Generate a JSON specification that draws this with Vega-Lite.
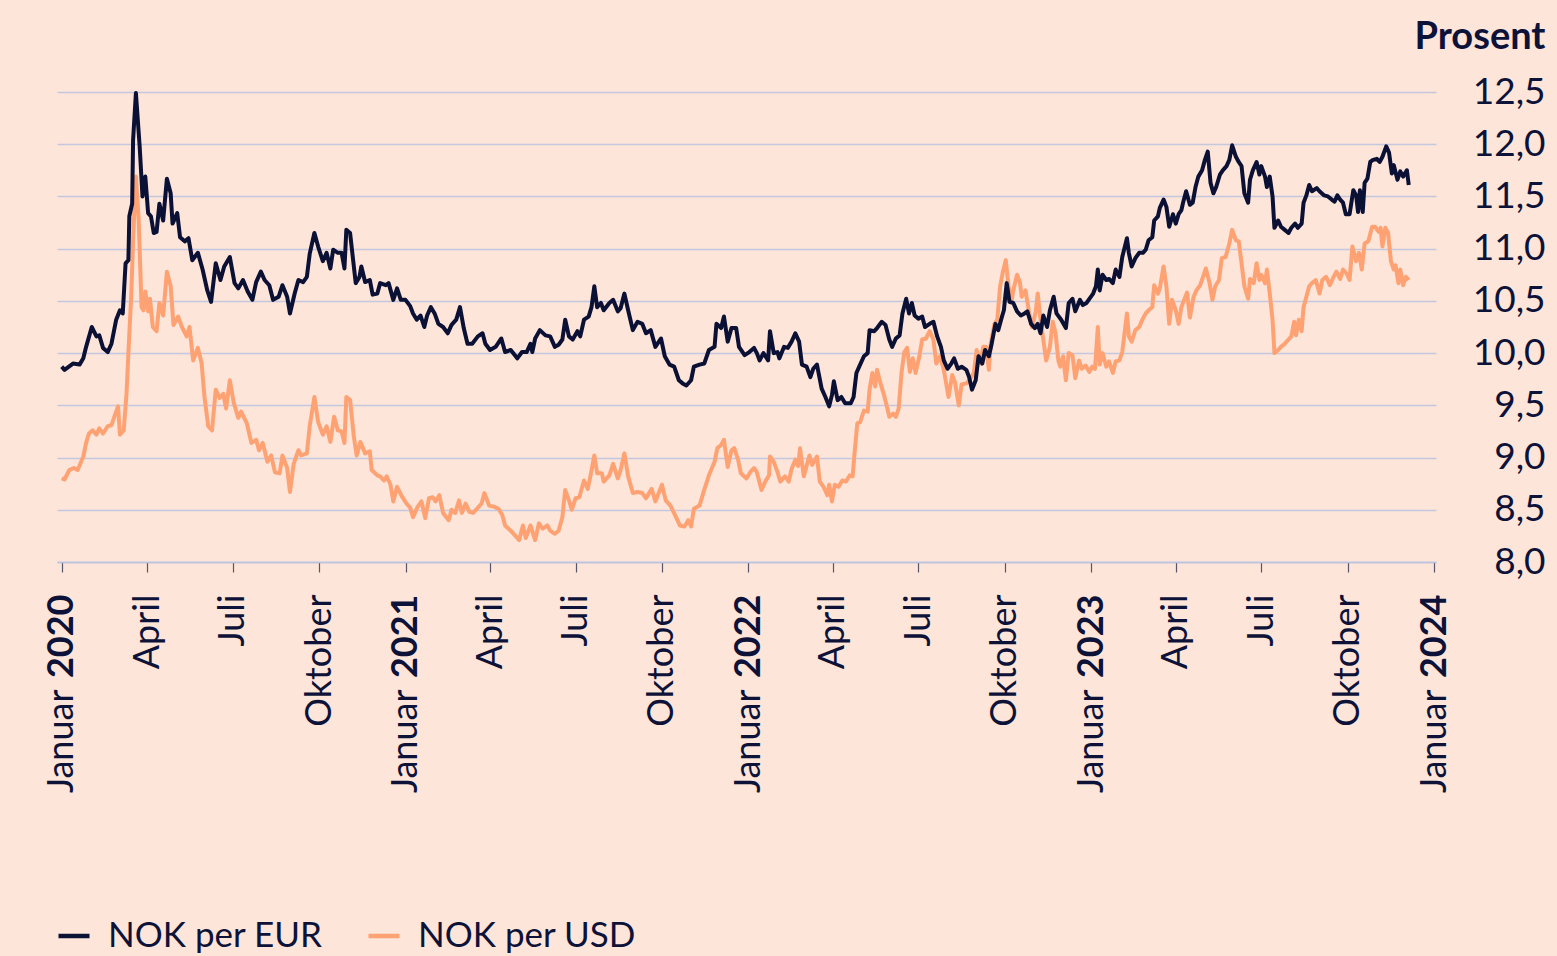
{
  "$schema": "https://vega.github.io/schema/vega-lite/v6.json",
  "width": 1379,
  "height": 470,
  "autosize": {"type": "none"},
  "padding": {"left": 57, "top": 92, "right": 121, "bottom": 394},
  "background": "#fde5d9",
  "config": {"view": {"stroke": null}, "font": "Lato"},
  "datasets": {
    "eur": [
      {"d":"2020-01-01","v":9.87},{"d":"2020-01-04","v":9.84},{"d":"2020-01-13","v":9.90},{"d":"2020-01-20","v":9.89},{"d":"2020-01-24","v":9.95},{"d":"2020-01-27","v":10.06},{"d":"2020-02-02","v":10.25},{"d":"2020-02-07","v":10.16},{"d":"2020-02-10","v":10.17},{"d":"2020-02-14","v":10.05},{"d":"2020-02-19","v":10.01},{"d":"2020-02-23","v":10.09},{"d":"2020-02-28","v":10.32},{"d":"2020-03-03","v":10.41},{"d":"2020-03-06","v":10.38},{"d":"2020-03-09","v":10.86},{"d":"2020-03-12","v":10.89},{"d":"2020-03-13","v":11.31},{"d":"2020-03-16","v":11.43},{"d":"2020-03-17","v":12.04},{"d":"2020-03-20","v":12.49},{"d":"2020-03-24","v":11.98},{"d":"2020-03-27","v":11.50},{"d":"2020-03-30","v":11.69},{"d":"2020-04-02","v":11.34},{"d":"2020-04-05","v":11.31},{"d":"2020-04-08","v":11.15},{"d":"2020-04-11","v":11.16},{"d":"2020-04-14","v":11.43},{"d":"2020-04-18","v":11.27},{"d":"2020-04-22","v":11.67},{"d":"2020-04-26","v":11.53},{"d":"2020-04-28","v":11.24},{"d":"2020-05-03","v":11.34},{"d":"2020-05-06","v":11.11},{"d":"2020-05-11","v":11.07},{"d":"2020-05-15","v":11.10},{"d":"2020-05-19","v":10.89},{"d":"2020-05-25","v":10.96},{"d":"2020-05-30","v":10.80},{"d":"2020-06-04","v":10.60},{"d":"2020-06-08","v":10.49},{"d":"2020-06-13","v":10.86},{"d":"2020-06-18","v":10.70},{"d":"2020-06-22","v":10.83},{"d":"2020-06-28","v":10.92},{"d":"2020-07-03","v":10.67},{"d":"2020-07-07","v":10.62},{"d":"2020-07-12","v":10.70},{"d":"2020-07-17","v":10.59},{"d":"2020-07-22","v":10.51},{"d":"2020-07-26","v":10.68},{"d":"2020-07-31","v":10.78},{"d":"2020-08-04","v":10.70},{"d":"2020-08-09","v":10.65},{"d":"2020-08-13","v":10.51},{"d":"2020-08-19","v":10.54},{"d":"2020-08-23","v":10.65},{"d":"2020-08-28","v":10.54},{"d":"2020-08-31","v":10.38},{"d":"2020-09-05","v":10.57},{"d":"2020-09-09","v":10.70},{"d":"2020-09-14","v":10.68},{"d":"2020-09-18","v":10.73},{"d":"2020-09-21","v":10.95},{"d":"2020-09-26","v":11.15},{"d":"2020-09-30","v":11.02},{"d":"2020-10-05","v":10.88},{"d":"2020-10-09","v":10.96},{"d":"2020-10-13","v":10.81},{"d":"2020-10-16","v":10.99},{"d":"2020-10-21","v":10.96},{"d":"2020-10-25","v":10.96},{"d":"2020-10-28","v":10.81},{"d":"2020-10-30","v":11.18},{"d":"2020-11-03","v":11.15},{"d":"2020-11-07","v":10.83},{"d":"2020-11-09","v":10.67},{"d":"2020-11-13","v":10.73},{"d":"2020-11-15","v":10.83},{"d":"2020-11-19","v":10.68},{"d":"2020-11-24","v":10.70},{"d":"2020-11-27","v":10.56},{"d":"2020-12-02","v":10.57},{"d":"2020-12-05","v":10.67},{"d":"2020-12-11","v":10.65},{"d":"2020-12-14","v":10.67},{"d":"2020-12-19","v":10.51},{"d":"2020-12-23","v":10.62},{"d":"2020-12-27","v":10.51},
      {"d":"2021-01-01","v":10.51},{"d":"2021-01-06","v":10.45},{"d":"2021-01-09","v":10.38},{"d":"2021-01-13","v":10.32},{"d":"2021-01-17","v":10.36},{"d":"2021-01-21","v":10.25},{"d":"2021-01-24","v":10.36},{"d":"2021-01-28","v":10.44},{"d":"2021-02-01","v":10.38},{"d":"2021-02-05","v":10.28},{"d":"2021-02-10","v":10.25},{"d":"2021-02-15","v":10.19},{"d":"2021-02-19","v":10.27},{"d":"2021-02-24","v":10.32},{"d":"2021-02-28","v":10.44},{"d":"2021-03-04","v":10.24},{"d":"2021-03-08","v":10.09},{"d":"2021-03-13","v":10.09},{"d":"2021-03-19","v":10.16},{"d":"2021-03-24","v":10.19},{"d":"2021-03-27","v":10.09},{"d":"2021-04-01","v":10.03},{"d":"2021-04-07","v":10.06},{"d":"2021-04-13","v":10.14},{"d":"2021-04-17","v":10.01},{"d":"2021-04-23","v":10.03},{"d":"2021-04-30","v":9.95},{"d":"2021-05-05","v":10.01},{"d":"2021-05-10","v":10.01},{"d":"2021-05-14","v":10.09},{"d":"2021-05-16","v":10.01},{"d":"2021-05-19","v":10.14},{"d":"2021-05-24","v":10.22},{"d":"2021-05-30","v":10.17},{"d":"2021-06-04","v":10.16},{"d":"2021-06-09","v":10.06},{"d":"2021-06-13","v":10.08},{"d":"2021-06-17","v":10.13},{"d":"2021-06-20","v":10.32},{"d":"2021-06-24","v":10.16},{"d":"2021-06-28","v":10.13},{"d":"2021-07-03","v":10.21},{"d":"2021-07-06","v":10.16},{"d":"2021-07-10","v":10.32},{"d":"2021-07-15","v":10.35},{"d":"2021-07-18","v":10.44},{"d":"2021-07-21","v":10.64},{"d":"2021-07-24","v":10.44},{"d":"2021-07-28","v":10.48},{"d":"2021-07-31","v":10.41},{"d":"2021-08-06","v":10.48},{"d":"2021-08-10","v":10.51},{"d":"2021-08-15","v":10.40},{"d":"2021-08-18","v":10.43},{"d":"2021-08-22","v":10.57},{"d":"2021-08-26","v":10.41},{"d":"2021-08-31","v":10.22},{"d":"2021-09-05","v":10.30},{"d":"2021-09-10","v":10.28},{"d":"2021-09-14","v":10.19},{"d":"2021-09-19","v":10.22},{"d":"2021-09-24","v":10.06},{"d":"2021-09-30","v":10.14},{"d":"2021-10-04","v":9.97},{"d":"2021-10-09","v":9.89},{"d":"2021-10-14","v":9.87},{"d":"2021-10-19","v":9.74},{"d":"2021-10-23","v":9.71},{"d":"2021-10-27","v":9.69},{"d":"2021-11-01","v":9.74},{"d":"2021-11-04","v":9.87},{"d":"2021-11-10","v":9.89},{"d":"2021-11-15","v":9.90},{"d":"2021-11-20","v":10.03},{"d":"2021-11-26","v":10.06},{"d":"2021-11-28","v":10.28},{"d":"2021-12-03","v":10.24},{"d":"2021-12-06","v":10.35},{"d":"2021-12-10","v":10.11},{"d":"2021-12-14","v":10.24},{"d":"2021-12-19","v":10.24},{"d":"2021-12-22","v":10.06},{"d":"2021-12-28","v":9.98},
      {"d":"2022-01-02","v":10.01},{"d":"2022-01-07","v":10.05},{"d":"2022-01-10","v":10.00},{"d":"2022-01-13","v":9.93},{"d":"2022-01-17","v":10.00},{"d":"2022-01-22","v":9.93},{"d":"2022-01-24","v":10.21},{"d":"2022-01-28","v":10.00},{"d":"2022-02-01","v":10.01},{"d":"2022-02-03","v":9.95},{"d":"2022-02-08","v":10.06},{"d":"2022-02-12","v":10.05},{"d":"2022-02-16","v":10.11},{"d":"2022-02-20","v":10.19},{"d":"2022-02-24","v":10.11},{"d":"2022-02-27","v":9.89},{"d":"2022-03-04","v":9.87},{"d":"2022-03-08","v":9.77},{"d":"2022-03-11","v":9.85},{"d":"2022-03-15","v":9.89},{"d":"2022-03-20","v":9.66},{"d":"2022-03-24","v":9.58},{"d":"2022-03-28","v":9.49},{"d":"2022-03-31","v":9.60},{"d":"2022-04-02","v":9.73},{"d":"2022-04-06","v":9.55},{"d":"2022-04-10","v":9.58},{"d":"2022-04-14","v":9.52},{"d":"2022-04-20","v":9.52},{"d":"2022-04-23","v":9.58},{"d":"2022-04-26","v":9.81},{"d":"2022-04-29","v":9.87},{"d":"2022-05-04","v":9.97},{"d":"2022-05-08","v":10.00},{"d":"2022-05-10","v":10.22},{"d":"2022-05-15","v":10.21},{"d":"2022-05-18","v":10.24},{"d":"2022-05-23","v":10.30},{"d":"2022-05-27","v":10.27},{"d":"2022-05-31","v":10.13},{"d":"2022-06-03","v":10.06},{"d":"2022-06-07","v":10.14},{"d":"2022-06-11","v":10.17},{"d":"2022-06-14","v":10.38},{"d":"2022-06-18","v":10.52},{"d":"2022-06-21","v":10.38},{"d":"2022-06-24","v":10.48},{"d":"2022-06-27","v":10.36},{"d":"2022-07-01","v":10.33},{"d":"2022-07-05","v":10.35},{"d":"2022-07-08","v":10.25},{"d":"2022-07-13","v":10.28},{"d":"2022-07-17","v":10.30},{"d":"2022-07-21","v":10.16},{"d":"2022-07-25","v":10.06},{"d":"2022-07-28","v":9.93},{"d":"2022-08-01","v":9.85},{"d":"2022-08-05","v":9.90},{"d":"2022-08-08","v":9.95},{"d":"2022-08-12","v":9.85},{"d":"2022-08-16","v":9.87},{"d":"2022-08-21","v":9.84},{"d":"2022-08-24","v":9.77},{"d":"2022-08-27","v":9.65},{"d":"2022-08-31","v":9.74},{"d":"2022-09-03","v":9.97},{"d":"2022-09-07","v":9.90},{"d":"2022-09-10","v":10.03},{"d":"2022-09-14","v":9.97},{"d":"2022-09-17","v":10.09},{"d":"2022-09-21","v":10.28},{"d":"2022-09-24","v":10.22},{"d":"2022-09-28","v":10.35},{"d":"2022-09-30","v":10.41},{"d":"2022-10-03","v":10.67},{"d":"2022-10-06","v":10.49},{"d":"2022-10-10","v":10.48},{"d":"2022-10-14","v":10.40},{"d":"2022-10-18","v":10.36},{"d":"2022-10-22","v":10.38},{"d":"2022-10-25","v":10.40},{"d":"2022-10-29","v":10.28},{"d":"2022-11-02","v":10.24},{"d":"2022-11-05","v":10.28},{"d":"2022-11-08","v":10.19},{"d":"2022-11-11","v":10.36},{"d":"2022-11-15","v":10.25},{"d":"2022-11-18","v":10.41},{"d":"2022-11-22","v":10.54},{"d":"2022-11-25","v":10.38},{"d":"2022-11-30","v":10.32},{"d":"2022-12-05","v":10.24},{"d":"2022-12-08","v":10.48},{"d":"2022-12-12","v":10.52},{"d":"2022-12-15","v":10.40},{"d":"2022-12-20","v":10.51},{"d":"2022-12-23","v":10.46},{"d":"2022-12-27","v":10.48},{"d":"2022-12-30","v":10.52},
      {"d":"2023-01-03","v":10.57},{"d":"2023-01-06","v":10.64},{"d":"2023-01-08","v":10.80},{"d":"2023-01-10","v":10.60},{"d":"2023-01-13","v":10.75},{"d":"2023-01-17","v":10.70},{"d":"2023-01-20","v":10.71},{"d":"2023-01-24","v":10.67},{"d":"2023-01-27","v":10.80},{"d":"2023-01-31","v":10.73},{"d":"2023-02-03","v":10.92},{"d":"2023-02-08","v":11.10},{"d":"2023-02-10","v":10.96},{"d":"2023-02-13","v":10.83},{"d":"2023-02-17","v":10.91},{"d":"2023-02-21","v":10.96},{"d":"2023-02-25","v":10.96},{"d":"2023-02-28","v":10.99},{"d":"2023-03-03","v":11.08},{"d":"2023-03-07","v":11.11},{"d":"2023-03-09","v":11.27},{"d":"2023-03-13","v":11.31},{"d":"2023-03-15","v":11.39},{"d":"2023-03-19","v":11.47},{"d":"2023-03-22","v":11.40},{"d":"2023-03-25","v":11.21},{"d":"2023-03-29","v":11.33},{"d":"2023-04-01","v":11.24},{"d":"2023-04-04","v":11.33},{"d":"2023-04-07","v":11.37},{"d":"2023-04-09","v":11.45},{"d":"2023-04-12","v":11.55},{"d":"2023-04-16","v":11.42},{"d":"2023-04-19","v":11.44},{"d":"2023-04-22","v":11.59},{"d":"2023-04-25","v":11.69},{"d":"2023-04-29","v":11.75},{"d":"2023-05-02","v":11.85},{"d":"2023-05-05","v":11.93},{"d":"2023-05-08","v":11.63},{"d":"2023-05-11","v":11.53},{"d":"2023-05-14","v":11.59},{"d":"2023-05-18","v":11.71},{"d":"2023-05-21","v":11.75},{"d":"2023-05-25","v":11.79},{"d":"2023-05-28","v":11.85},{"d":"2023-05-31","v":11.99},{"d":"2023-06-04","v":11.88},{"d":"2023-06-07","v":11.83},{"d":"2023-06-10","v":11.79},{"d":"2023-06-13","v":11.53},{"d":"2023-06-17","v":11.44},{"d":"2023-06-19","v":11.66},{"d":"2023-06-22","v":11.75},{"d":"2023-06-26","v":11.83},{"d":"2023-06-29","v":11.71},{"d":"2023-07-01","v":11.79},{"d":"2023-07-05","v":11.69},{"d":"2023-07-07","v":11.59},{"d":"2023-07-10","v":11.69},{"d":"2023-07-13","v":11.50},{"d":"2023-07-15","v":11.20},{"d":"2023-07-19","v":11.27},{"d":"2023-07-22","v":11.21},{"d":"2023-07-26","v":11.18},{"d":"2023-07-30","v":11.15},{"d":"2023-08-02","v":11.20},{"d":"2023-08-06","v":11.24},{"d":"2023-08-09","v":11.20},{"d":"2023-08-13","v":11.24},{"d":"2023-08-15","v":11.44},{"d":"2023-08-18","v":11.51},{"d":"2023-08-21","v":11.61},{"d":"2023-08-24","v":11.55},{"d":"2023-08-29","v":11.58},{"d":"2023-09-01","v":11.55},{"d":"2023-09-06","v":11.51},{"d":"2023-09-10","v":11.50},{"d":"2023-09-14","v":11.47},{"d":"2023-09-17","v":11.45},{"d":"2023-09-20","v":11.51},{"d":"2023-09-23","v":11.47},{"d":"2023-09-26","v":11.44},{"d":"2023-09-29","v":11.33},{"d":"2023-10-03","v":11.33},{"d":"2023-10-07","v":11.56},{"d":"2023-10-10","v":11.51},{"d":"2023-10-12","v":11.35},{"d":"2023-10-14","v":11.56},{"d":"2023-10-17","v":11.35},{"d":"2023-10-19","v":11.63},{"d":"2023-10-22","v":11.67},{"d":"2023-10-25","v":11.83},{"d":"2023-10-28","v":11.85},{"d":"2023-11-01","v":11.86},{"d":"2023-11-04","v":11.83},{"d":"2023-11-07","v":11.88},{"d":"2023-11-11","v":11.98},{"d":"2023-11-14","v":11.92},{"d":"2023-11-17","v":11.72},{"d":"2023-11-19","v":11.80},{"d":"2023-11-23","v":11.66},{"d":"2023-11-26","v":11.74},{"d":"2023-11-29","v":11.69},{"d":"2023-12-03","v":11.75},{"d":"2023-12-05","v":11.61}
    ],
    "usd": [
      {"d":"2020-01-01","v":8.80},{"d":"2020-01-04","v":8.79},{"d":"2020-01-09","v":8.88},{"d":"2020-01-14","v":8.90},{"d":"2020-01-18","v":8.88},{"d":"2020-01-24","v":9.01},{"d":"2020-01-27","v":9.14},{"d":"2020-01-30","v":9.23},{"d":"2020-02-03","v":9.26},{"d":"2020-02-07","v":9.22},{"d":"2020-02-10","v":9.28},{"d":"2020-02-14","v":9.23},{"d":"2020-02-19","v":9.30},{"d":"2020-02-23","v":9.31},{"d":"2020-02-26","v":9.39},{"d":"2020-03-01","v":9.49},{"d":"2020-03-03","v":9.22},{"d":"2020-03-07","v":9.26},{"d":"2020-03-10","v":9.61},{"d":"2020-03-13","v":10.19},{"d":"2020-03-15","v":10.54},{"d":"2020-03-17","v":11.08},{"d":"2020-03-20","v":11.69},{"d":"2020-03-23","v":11.27},{"d":"2020-03-26","v":10.44},{"d":"2020-03-28","v":10.41},{"d":"2020-03-30","v":10.59},{"d":"2020-04-02","v":10.40},{"d":"2020-04-04","v":10.52},{"d":"2020-04-07","v":10.25},{"d":"2020-04-11","v":10.21},{"d":"2020-04-14","v":10.48},{"d":"2020-04-18","v":10.36},{"d":"2020-04-22","v":10.78},{"d":"2020-04-26","v":10.64},{"d":"2020-04-29","v":10.27},{"d":"2020-05-04","v":10.35},{"d":"2020-05-08","v":10.25},{"d":"2020-05-13","v":10.16},{"d":"2020-05-16","v":10.25},{"d":"2020-05-20","v":9.93},{"d":"2020-05-25","v":10.05},{"d":"2020-05-29","v":9.90},{"d":"2020-06-01","v":9.58},{"d":"2020-06-05","v":9.30},{"d":"2020-06-09","v":9.26},{"d":"2020-06-13","v":9.65},{"d":"2020-06-17","v":9.57},{"d":"2020-06-21","v":9.61},{"d":"2020-06-24","v":9.47},{"d":"2020-06-28","v":9.74},{"d":"2020-07-02","v":9.53},{"d":"2020-07-07","v":9.38},{"d":"2020-07-10","v":9.44},{"d":"2020-07-16","v":9.33},{"d":"2020-07-21","v":9.14},{"d":"2020-07-26","v":9.17},{"d":"2020-07-29","v":9.07},{"d":"2020-08-02","v":9.14},{"d":"2020-08-07","v":8.96},{"d":"2020-08-11","v":9.02},{"d":"2020-08-15","v":8.86},{"d":"2020-08-20","v":8.85},{"d":"2020-08-23","v":9.02},{"d":"2020-08-28","v":8.90},{"d":"2020-08-31","v":8.67},{"d":"2020-09-04","v":8.94},{"d":"2020-09-09","v":9.07},{"d":"2020-09-12","v":9.02},{"d":"2020-09-18","v":9.04},{"d":"2020-09-21","v":9.30},{"d":"2020-09-26","v":9.58},{"d":"2020-09-30","v":9.34},{"d":"2020-10-05","v":9.22},{"d":"2020-10-09","v":9.30},{"d":"2020-10-13","v":9.15},{"d":"2020-10-17","v":9.39},{"d":"2020-10-21","v":9.26},{"d":"2020-10-25","v":9.25},{"d":"2020-10-28","v":9.14},{"d":"2020-10-30","v":9.58},{"d":"2020-11-03","v":9.55},{"d":"2020-11-07","v":9.20},{"d":"2020-11-10","v":9.02},{"d":"2020-11-14","v":9.15},{"d":"2020-11-19","v":9.04},{"d":"2020-11-24","v":9.06},{"d":"2020-11-26","v":8.88},{"d":"2020-12-02","v":8.83},{"d":"2020-12-05","v":8.82},{"d":"2020-12-09","v":8.78},{"d":"2020-12-12","v":8.82},{"d":"2020-12-16","v":8.74},{"d":"2020-12-19","v":8.58},{"d":"2020-12-23","v":8.72},{"d":"2020-12-28","v":8.63},
      {"d":"2021-01-02","v":8.56},{"d":"2021-01-06","v":8.52},{"d":"2021-01-09","v":8.43},{"d":"2021-01-14","v":8.53},{"d":"2021-01-18","v":8.58},{"d":"2021-01-22","v":8.42},{"d":"2021-01-26","v":8.61},{"d":"2021-01-30","v":8.62},{"d":"2021-02-02","v":8.58},{"d":"2021-02-06","v":8.64},{"d":"2021-02-10","v":8.47},{"d":"2021-02-16","v":8.40},{"d":"2021-02-19","v":8.50},{"d":"2021-02-23","v":8.47},{"d":"2021-02-27","v":8.59},{"d":"2021-03-02","v":8.47},{"d":"2021-03-06","v":8.56},{"d":"2021-03-10","v":8.48},{"d":"2021-03-14","v":8.47},{"d":"2021-03-18","v":8.51},{"d":"2021-03-23","v":8.56},{"d":"2021-03-26","v":8.66},{"d":"2021-03-31","v":8.54},{"d":"2021-04-05","v":8.53},{"d":"2021-04-10","v":8.51},{"d":"2021-04-14","v":8.45},{"d":"2021-04-17","v":8.35},{"d":"2021-04-23","v":8.30},{"d":"2021-04-28","v":8.25},{"d":"2021-05-02","v":8.21},{"d":"2021-05-06","v":8.35},{"d":"2021-05-09","v":8.23},{"d":"2021-05-14","v":8.35},{"d":"2021-05-19","v":8.21},{"d":"2021-05-23","v":8.37},{"d":"2021-05-27","v":8.32},{"d":"2021-06-01","v":8.35},{"d":"2021-06-04","v":8.30},{"d":"2021-06-09","v":8.27},{"d":"2021-06-13","v":8.30},{"d":"2021-06-17","v":8.43},{"d":"2021-06-20","v":8.69},{"d":"2021-06-24","v":8.59},{"d":"2021-06-27","v":8.50},{"d":"2021-07-01","v":8.61},{"d":"2021-07-05","v":8.62},{"d":"2021-07-10","v":8.78},{"d":"2021-07-14","v":8.70},{"d":"2021-07-17","v":8.83},{"d":"2021-07-21","v":9.02},{"d":"2021-07-24","v":8.85},{"d":"2021-07-29","v":8.85},{"d":"2021-07-31","v":8.77},{"d":"2021-08-06","v":8.83},{"d":"2021-08-10","v":8.94},{"d":"2021-08-15","v":8.80},{"d":"2021-08-18","v":8.88},{"d":"2021-08-22","v":9.04},{"d":"2021-08-26","v":8.82},{"d":"2021-08-31","v":8.66},{"d":"2021-09-05","v":8.67},{"d":"2021-09-10","v":8.66},{"d":"2021-09-14","v":8.61},{"d":"2021-09-20","v":8.70},{"d":"2021-09-24","v":8.58},{"d":"2021-10-01","v":8.74},{"d":"2021-10-05","v":8.59},{"d":"2021-10-10","v":8.54},{"d":"2021-10-16","v":8.43},{"d":"2021-10-20","v":8.35},{"d":"2021-10-25","v":8.34},{"d":"2021-10-29","v":8.40},{"d":"2021-11-01","v":8.34},{"d":"2021-11-04","v":8.51},{"d":"2021-11-10","v":8.54},{"d":"2021-11-15","v":8.69},{"d":"2021-11-20","v":8.83},{"d":"2021-11-26","v":8.96},{"d":"2021-11-29","v":9.09},{"d":"2021-12-03","v":9.12},{"d":"2021-12-06","v":9.17},{"d":"2021-12-10","v":8.91},{"d":"2021-12-14","v":9.07},{"d":"2021-12-17","v":9.09},{"d":"2021-12-21","v":8.98},{"d":"2021-12-24","v":8.85},{"d":"2021-12-30","v":8.80},
      {"d":"2022-01-03","v":8.86},{"d":"2022-01-07","v":8.90},{"d":"2022-01-10","v":8.86},{"d":"2022-01-15","v":8.69},{"d":"2022-01-19","v":8.77},{"d":"2022-01-23","v":8.83},{"d":"2022-01-24","v":9.01},{"d":"2022-01-28","v":8.96},{"d":"2022-02-01","v":8.86},{"d":"2022-02-04","v":8.77},{"d":"2022-02-09","v":8.82},{"d":"2022-02-13","v":8.77},{"d":"2022-02-16","v":8.89},{"d":"2022-02-20","v":8.98},{"d":"2022-02-23","v":8.92},{"d":"2022-02-25","v":9.09},{"d":"2022-03-01","v":8.82},{"d":"2022-03-04","v":8.92},{"d":"2022-03-07","v":9.02},{"d":"2022-03-10","v":8.93},{"d":"2022-03-15","v":9.01},{"d":"2022-03-18","v":8.77},{"d":"2022-03-22","v":8.72},{"d":"2022-03-26","v":8.64},{"d":"2022-03-28","v":8.74},{"d":"2022-03-31","v":8.58},{"d":"2022-04-03","v":8.74},{"d":"2022-04-07","v":8.72},{"d":"2022-04-11","v":8.78},{"d":"2022-04-15","v":8.77},{"d":"2022-04-19","v":8.83},{"d":"2022-04-22","v":8.82},{"d":"2022-04-24","v":9.04},{"d":"2022-04-27","v":9.33},{"d":"2022-04-30","v":9.34},{"d":"2022-05-04","v":9.45},{"d":"2022-05-08","v":9.44},{"d":"2022-05-10","v":9.65},{"d":"2022-05-13","v":9.81},{"d":"2022-05-16","v":9.68},{"d":"2022-05-18","v":9.84},{"d":"2022-05-22","v":9.70},{"d":"2022-05-25","v":9.61},{"d":"2022-05-29","v":9.47},{"d":"2022-05-31","v":9.39},{"d":"2022-06-04","v":9.42},{"d":"2022-06-07","v":9.39},{"d":"2022-06-10","v":9.47},{"d":"2022-06-13","v":9.81},{"d":"2022-06-16","v":10.01},{"d":"2022-06-19","v":10.05},{"d":"2022-06-22","v":9.82},{"d":"2022-06-25","v":9.95},{"d":"2022-06-28","v":9.81},{"d":"2022-07-02","v":9.97},{"d":"2022-07-05","v":10.13},{"d":"2022-07-09","v":10.14},{"d":"2022-07-13","v":10.21},{"d":"2022-07-17","v":10.13},{"d":"2022-07-20","v":9.90},{"d":"2022-07-24","v":9.97},{"d":"2022-07-28","v":9.84},{"d":"2022-07-30","v":9.74},{"d":"2022-08-02","v":9.58},{"d":"2022-08-06","v":9.79},{"d":"2022-08-09","v":9.72},{"d":"2022-08-13","v":9.50},{"d":"2022-08-16","v":9.70},{"d":"2022-08-21","v":9.71},{"d":"2022-08-24","v":9.74},{"d":"2022-08-29","v":9.81},{"d":"2022-09-01","v":10.03},{"d":"2022-09-05","v":9.90},{"d":"2022-09-08","v":10.06},{"d":"2022-09-11","v":10.06},{"d":"2022-09-14","v":9.84},{"d":"2022-09-16","v":10.09},{"d":"2022-09-20","v":10.28},{"d":"2022-09-23","v":10.32},{"d":"2022-09-26","v":10.64},{"d":"2022-09-29","v":10.78},{"d":"2022-10-02","v":10.89},{"d":"2022-10-05","v":10.64},{"d":"2022-10-08","v":10.49},{"d":"2022-10-10","v":10.60},{"d":"2022-10-14","v":10.75},{"d":"2022-10-17","v":10.68},{"d":"2022-10-19","v":10.54},{"d":"2022-10-23","v":10.60},{"d":"2022-10-27","v":10.38},{"d":"2022-10-30","v":10.25},{"d":"2022-11-03","v":10.40},{"d":"2022-11-05","v":10.57},{"d":"2022-11-08","v":10.32},{"d":"2022-11-10","v":10.19},{"d":"2022-11-14","v":9.93},{"d":"2022-11-18","v":10.06},{"d":"2022-11-21","v":10.30},{"d":"2022-11-24","v":10.19},{"d":"2022-11-27","v":9.93},{"d":"2022-11-29","v":9.87},{"d":"2022-12-02","v":9.97},{"d":"2022-12-05","v":9.74},{"d":"2022-12-08","v":10.00},{"d":"2022-12-12","v":9.98},{"d":"2022-12-15","v":9.76},{"d":"2022-12-19","v":9.93},{"d":"2022-12-22","v":9.85},{"d":"2022-12-26","v":9.88},{"d":"2022-12-30","v":9.82},
      {"d":"2023-01-02","v":9.87},{"d":"2023-01-05","v":9.85},{"d":"2023-01-08","v":10.25},{"d":"2023-01-10","v":9.89},{"d":"2023-01-13","v":10.00},{"d":"2023-01-17","v":9.87},{"d":"2023-01-20","v":9.92},{"d":"2023-01-24","v":9.81},{"d":"2023-01-27","v":9.92},{"d":"2023-01-31","v":9.93},{"d":"2023-02-03","v":10.01},{"d":"2023-02-08","v":10.38},{"d":"2023-02-10","v":10.16},{"d":"2023-02-13","v":10.11},{"d":"2023-02-17","v":10.22},{"d":"2023-02-21","v":10.25},{"d":"2023-02-25","v":10.33},{"d":"2023-02-28","v":10.38},{"d":"2023-03-03","v":10.41},{"d":"2023-03-07","v":10.44},{"d":"2023-03-09","v":10.65},{"d":"2023-03-13","v":10.57},{"d":"2023-03-15","v":10.62},{"d":"2023-03-19","v":10.83},{"d":"2023-03-22","v":10.64},{"d":"2023-03-25","v":10.28},{"d":"2023-03-28","v":10.51},{"d":"2023-04-01","v":10.41},{"d":"2023-04-04","v":10.28},{"d":"2023-04-07","v":10.44},{"d":"2023-04-09","v":10.49},{"d":"2023-04-13","v":10.58},{"d":"2023-04-16","v":10.34},{"d":"2023-04-20","v":10.54},{"d":"2023-04-23","v":10.60},{"d":"2023-04-27","v":10.65},{"d":"2023-04-30","v":10.73},{"d":"2023-05-03","v":10.81},{"d":"2023-05-07","v":10.67},{"d":"2023-05-10","v":10.51},{"d":"2023-05-13","v":10.64},{"d":"2023-05-17","v":10.70},{"d":"2023-05-20","v":10.91},{"d":"2023-05-24","v":10.92},{"d":"2023-05-28","v":11.05},{"d":"2023-05-31","v":11.18},{"d":"2023-06-04","v":11.08},{"d":"2023-06-07","v":11.07},{"d":"2023-06-10","v":10.86},{"d":"2023-06-13","v":10.64},{"d":"2023-06-17","v":10.52},{"d":"2023-06-19","v":10.71},{"d":"2023-06-23","v":10.67},{"d":"2023-06-26","v":10.86},{"d":"2023-06-29","v":10.70},{"d":"2023-07-01","v":10.75},{"d":"2023-07-05","v":10.67},{"d":"2023-07-07","v":10.80},{"d":"2023-07-10","v":10.57},{"d":"2023-07-13","v":10.32},{"d":"2023-07-15","v":10.00},{"d":"2023-07-19","v":10.03},{"d":"2023-07-22","v":10.06},{"d":"2023-07-26","v":10.09},{"d":"2023-07-30","v":10.13},{"d":"2023-08-02","v":10.16},{"d":"2023-08-05","v":10.30},{"d":"2023-08-07","v":10.17},{"d":"2023-08-10","v":10.32},{"d":"2023-08-13","v":10.21},{"d":"2023-08-15","v":10.44},{"d":"2023-08-18","v":10.54},{"d":"2023-08-21","v":10.64},{"d":"2023-08-24","v":10.67},{"d":"2023-08-28","v":10.70},{"d":"2023-09-01","v":10.57},{"d":"2023-09-04","v":10.70},{"d":"2023-09-08","v":10.73},{"d":"2023-09-12","v":10.65},{"d":"2023-09-16","v":10.73},{"d":"2023-09-19","v":10.78},{"d":"2023-09-23","v":10.71},{"d":"2023-09-26","v":10.80},{"d":"2023-09-30","v":10.76},{"d":"2023-10-03","v":10.70},{"d":"2023-10-06","v":11.02},{"d":"2023-10-10","v":10.88},{"d":"2023-10-13","v":10.96},{"d":"2023-10-16","v":10.80},{"d":"2023-10-19","v":11.05},{"d":"2023-10-23","v":11.07},{"d":"2023-10-27","v":11.21},{"d":"2023-10-30","v":11.21},{"d":"2023-11-03","v":11.16},{"d":"2023-11-05","v":11.20},{"d":"2023-11-07","v":11.02},{"d":"2023-11-10","v":11.20},{"d":"2023-11-13","v":11.15},{"d":"2023-11-16","v":10.88},{"d":"2023-11-19","v":10.80},{"d":"2023-11-21","v":10.84},{"d":"2023-11-24","v":10.67},{"d":"2023-11-26","v":10.80},{"d":"2023-11-29","v":10.65},{"d":"2023-12-02","v":10.73},{"d":"2023-12-05","v":10.70}
    ]
  },
  "encoding": {
    "y": {
      "field": "v",
      "type": "quantitative",
      "scale": {"domain": [8, 12.5], "nice": false, "zero": false},
      "axis": {
        "orient": "right",
        "values": [8, 8.5, 9, 9.5, 10, 10.5, 11, 11.5, 12, 12.5],
        "labelExpr": "replace(format(datum.value, '.1f'), '.', ',')",
        "labelAlign": "right",
        "labelBaseline": "middle",
        "labelPadding": 109,
        "labelFontSize": 37,
        "labelFont": "Lato",
        "labelColor": "#0d1238",
        "ticks": false,
        "tickSize": 0,
        "domain": false,
        "grid": true,
        "gridColor": "#c3c8dd",
        "gridWidth": 1.5,
        "title": "Prosent",
        "titleAngle": 0,
        "titleAlign": "right",
        "titleBaseline": "alphabetic",
        "titleX": 109,
        "titleY": -44,
        "titleFont": "Lato",
        "titleFontSize": 38,
        "titleFontWeight": "bold",
        "titleColor": "#0d1238"
      }
    }
  },
  "layer": [
    {
      "data": {"name": "usd"},
      "mark": {"type": "line", "strokeWidth": 4, "strokeJoin": "round"},
      "encoding": {
        "x": {
          "field": "d",
          "type": "temporal",
          "scale": {"domain": [{"year": 2019, "month": 12, "date": 27}, {"year": 2024, "month": 1, "date": 3}]},
          "axis": {
            "orient": "bottom",
            "values": [{"year": 2020, "month": 1, "date": 1}, {"year": 2021, "month": 1, "date": 1}, {"year": 2022, "month": 1, "date": 1}, {"year": 2023, "month": 1, "date": 1}, {"year": 2024, "month": 1, "date": 1}],
            "labelExpr": "'Januar'",
            "labelAngle": -90,
            "labelAlign": "right",
            "labelBaseline": "middle",
            "labelPadding": 127,
            "labelFontSize": 36,
            "labelFont": "Lato",
            "labelFontWeight": "normal",
            "labelColor": "#0d1238",
            "labelOverlap": false,
            "labelBound": false,
            "labelFlush": false,
            "ticks": false,
            "tickSize": 0,
            "domain": false,
            "grid": false,
            "title": null
          }
        },
        "color": {
          "datum": "NOK per USD",
          "type": "nominal",
          "scale": {"domain": ["NOK per EUR", "NOK per USD"], "range": ["#0b1035", "#ffa273"]},
          "legend": {
            "orient": "none",
            "legendX": -1,
            "legendY": 826,
            "direction": "horizontal",
            "title": null,
            "symbolType": "stroke",
            "symbolSize": 961,
            "symbolStrokeWidth": 4.5,
            "labelFontSize": 35,
            "labelFont": "Lato",
            "labelColor": "#0d1238",
            "labelLimit": 0,
            "labelOffset": 16,
            "columnPadding": 36
          }
        }
      }
    },
    {
      "data": {"name": "eur"},
      "mark": {"type": "line", "strokeWidth": 4, "strokeJoin": "round"},
      "encoding": {
        "x": {
          "field": "d",
          "type": "temporal",
          "scale": {"domain": [{"year": 2019, "month": 12, "date": 27}, {"year": 2024, "month": 1, "date": 3}]},
          "axis": {
            "orient": "bottom",
            "values": [{"year": 2020, "month": 1, "date": 1}, {"year": 2020, "month": 4, "date": 1}, {"year": 2020, "month": 7, "date": 1}, {"year": 2020, "month": 10, "date": 1}, {"year": 2021, "month": 1, "date": 1}, {"year": 2021, "month": 4, "date": 1}, {"year": 2021, "month": 7, "date": 1}, {"year": 2021, "month": 10, "date": 1}, {"year": 2022, "month": 1, "date": 1}, {"year": 2022, "month": 4, "date": 1}, {"year": 2022, "month": 7, "date": 1}, {"year": 2022, "month": 10, "date": 1}, {"year": 2023, "month": 1, "date": 1}, {"year": 2023, "month": 4, "date": 1}, {"year": 2023, "month": 7, "date": 1}, {"year": 2023, "month": 10, "date": 1}, {"year": 2024, "month": 1, "date": 1}],
            "labelExpr": "month(datum.value) == 0 ? timeFormat(datum.value, '%Y') : (month(datum.value) == 3 ? 'April' : (month(datum.value) == 6 ? 'Juli' : 'Oktober'))",
            "labelFontWeight": {"condition": {"test": "month(datum.value) == 0", "value": "bold"}, "value": "normal"},
            "labelAngle": -90,
            "labelAlign": "right",
            "labelBaseline": "middle",
            "labelPadding": 22,
            "labelFontSize": 36,
            "labelFont": "Lato",
            "labelColor": "#0d1238",
            "labelOverlap": false,
            "labelBound": false,
            "labelFlush": false,
            "ticks": true,
            "tickSize": 10,
            "tickWidth": 1.2,
            "tickColor": "#55566a",
            "domain": true,
            "domainColor": "#b9c3e0",
            "domainWidth": 1.5,
            "grid": false,
            "title": null
          }
        },
        "color": {"datum": "NOK per EUR", "type": "nominal"}
      }
    }
  ],
  "resolve": {"axis": {"x": "independent"}}
}
